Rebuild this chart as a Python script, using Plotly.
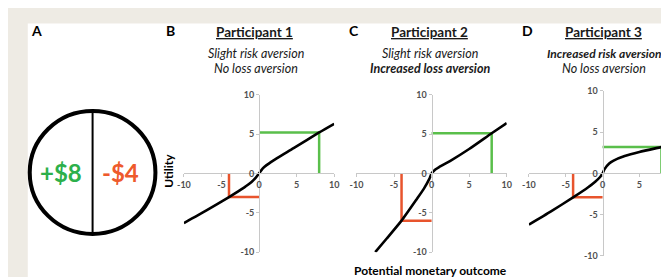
import plotly.graph_objects as go

W, H = 669, 277

# ---- data ----
gain = 8
loss = -4
participants = ["Participant 1", "Participant 2", "Participant 3"]
line1 = ["Slight risk aversion", "Slight risk aversion", "<b>Increased risk aversion</b>"]
line2 = ["No loss aversion", "<b>Increased loss aversion</b>", "No loss aversion"]

p1_x = [-10, -7, -4, -2, -1, -0.4, 0, 0.5, 1, 2.4, 4.6, 8, 10]
p1_y = [-6.3, -4.7, -3.0, -1.8, -1.1, -0.5, 0, 0.65, 1.05, 1.95, 3.2, 5.2, 6.3]
p2_x = [-7.5, -6, -4, -2, -1, -0.3, 0, 0.5, 1, 2.5, 5, 8, 10]
p2_y = [-10, -8.3, -6.0, -3.3, -1.9, -0.7, 0, 0.5, 0.8, 1.6, 3.1, 5.1, 6.4]
p3_x = [-10, -7, -4, -2, -1, -0.3, 0, 0.3, 0.9, 1.5, 3, 5, 8, 10]
p3_y = [-6.2, -4.6, -2.9, -1.7, -1.0, -0.4, 0, 0.55, 1.2, 1.55, 2.1, 2.6, 3.2, 3.6]
u_gain = [5.2, 5.1, 3.2]
u_loss = [-3.0, -6.0, -2.9]

curves_x = [p1_x, p2_x, p3_x]
curves_y = [p1_y, p2_y, p3_y]

x_ticks = [-10, -5, 0, 5, 10]
y_ticks = [-10, -5, 0, 5, 10]
x_ranges = [[-10, 10], [-10, 10], [-10, 9.43]]
y_ranges = [[-10, 10], [-10, 10], [-10, 10]]

# ---- layout geometry (pixels) ----
px_x = [(172, 325), (347.7, 500.7), (523.3, 669)]
px_y = [(84, 248), (84, 248), (80, 252)]

GREEN = "#5ABF4B"
RED = "#E8542D"
FONT = "Lato, Open Sans, sans-serif"
TICKCOL = "#505050"
AXCOL = "#C8C8C8"

fig = go.Figure()
layout = dict(
    width=W, height=H,
    margin=dict(l=0, r=0, t=0, b=0),
    paper_bgcolor="#EEEBE4",
    plot_bgcolor="rgba(0,0,0,0)",
    showlegend=False,
    font=dict(family=FONT),
)

shapes = [
    dict(type="rect", xref="paper", yref="paper", x0=13 / W, x1=1, y0=0, y1=(H - 10) / H,
         fillcolor="white", line=dict(width=0), layer="below"),
]
annotations = []

for i in range(3):
    xa = "x" if i == 0 else f"x{i+1}"
    ya = "y" if i == 0 else f"y{i+1}"
    xkey = "xaxis" if i == 0 else f"xaxis{i+1}"
    ykey = "yaxis" if i == 0 else f"yaxis{i+1}"
    xd = [px_x[i][0] / W, px_x[i][1] / W]
    yd = [(H - px_y[i][1]) / H, (H - px_y[i][0]) / H]
    xr, yr = x_ranges[i], y_ranges[i]
    x0p = xd[0] + (0 - xr[0]) / (xr[1] - xr[0]) * (xd[1] - xd[0])
    y0p = yd[0] + (0 - yr[0]) / (yr[1] - yr[0]) * (yd[1] - yd[0])
    layout[xkey] = dict(domain=xd, range=xr, anchor="free", position=y0p,
                        showgrid=False, zeroline=False, showline=True, linecolor=AXCOL,
                        linewidth=1, ticks="outside", ticklen=3, tickcolor=AXCOL,
                        tickvals=x_ticks, ticktext=[f"<b>{v}</b>" for v in x_ticks],
                        tickfont=dict(size=9, color=TICKCOL, family=FONT), fixedrange=True)
    layout[ykey] = dict(domain=yd, range=yr, anchor="free", position=x0p,
                        showgrid=False, zeroline=False, showline=True, linecolor=AXCOL,
                        linewidth=1, ticks="outside", ticklen=3, tickcolor=AXCOL,
                        tickvals=y_ticks, ticktext=[f"<b>{v}</b>" for v in y_ticks],
                        tickfont=dict(size=9, color=TICKCOL, family=FONT), fixedrange=True)
    # green gain lines
    fig.add_trace(go.Scatter(x=[0, gain, gain], y=[u_gain[i], u_gain[i], 0], mode="lines",
                             line=dict(color=GREEN, width=2.5), xaxis=xa, yaxis=ya,
                             hoverinfo="skip"))
    # red loss lines
    fig.add_trace(go.Scatter(x=[loss, loss, 0], y=[0, u_loss[i], u_loss[i]], mode="lines",
                             line=dict(color=RED, width=2.5), xaxis=xa, yaxis=ya,
                             hoverinfo="skip"))
    # utility curve
    fig.add_trace(go.Scatter(x=curves_x[i], y=curves_y[i], mode="lines",
                             line=dict(color="black", width=2.6, shape="spline", smoothing=0.6),
                             xaxis=xa, yaxis=ya, hoverinfo="skip"))

def px(x, y):
    return x / W, (H - y) / H

def text(x, y, t, size, color="black", angle=0):
    ax, ay = px(x, y)
    annotations.append(dict(xref="paper", yref="paper", x=ax, y=ay, text=t, showarrow=False,
                            xanchor="center", yanchor="middle", textangle=angle,
                            font=dict(size=size, color=color, family=FONT)))

# panel letters
for lx, lt in zip([22, 158, 345, 522], ["A", "B", "C", "D"]):
    text(lx, 17, f"<b>{lt}</b>", 14)

# titles
title_cx = [244, 422, 599]
for i in range(3):
    sz = 12 if i == 2 else 12.5
    text(title_cx[i], 19, f"<b><u>{participants[i]}</u></b>", 13.5, "#1a1a1a")
    text(title_cx[i] + 1, 41.5, f"<i>{line1[i]}</i>", sz, "#1a1a1a")
    text(title_cx[i] + 1, 56.5, f"<i>{line2[i]}</i>", 12.5, "#1a1a1a")

text(156, 163, "<b>Utility</b>", 12, "black", angle=-90)
text(423, 267, "<b>Potential monetary outcome</b>", 12, "black")

# panel A: circle split into gain / loss
cx, cy, r = 79, 165, 64
x0, y0 = px(cx - r, cy + r)
x1, y1 = px(cx + r, cy - r)
shapes.append(dict(type="circle", xref="paper", yref="paper", x0=x0, x1=x1, y0=y0, y1=y1,
                   line=dict(color="black", width=4), fillcolor="white"))
lx0, ly0 = px(cx, cy - r)
lx1, ly1 = px(cx, cy + r)
shapes.append(dict(type="line", xref="paper", yref="paper", x0=lx0, x1=lx1, y0=ly0, y1=ly1,
                   line=dict(color="black", width=2)))
text(47, 165, f"<b>+${gain}</b>", 24, "#2DB04B")
text(107, 165, f"<b>-${abs(loss)}</b>", 24, "#EE5A2C")

layout["shapes"] = shapes
layout["annotations"] = annotations
fig.update_layout(**layout)
fig.write_html("out.html")
